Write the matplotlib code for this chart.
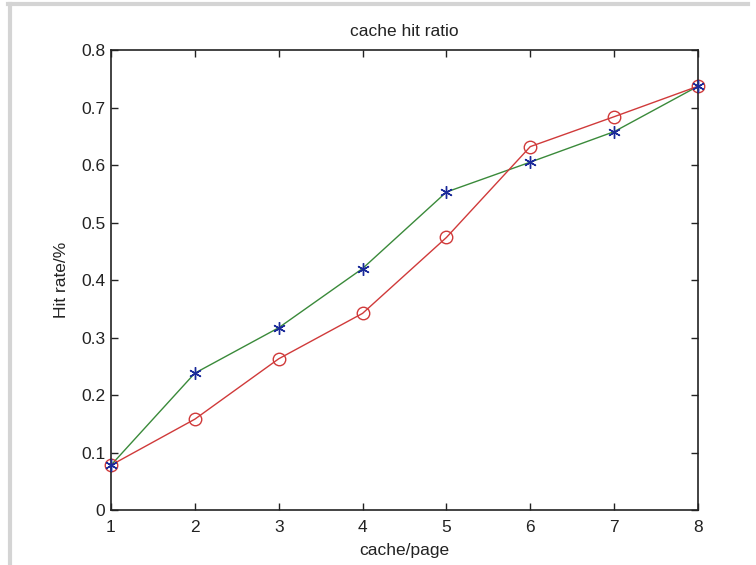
import matplotlib
matplotlib.use('Agg')
import matplotlib.pyplot as plt
from matplotlib.lines import Line2D

plt.rcParams['font.family'] = ['Liberation Sans', 'DejaVu Sans']

cache_pages = [1, 2, 3, 4, 5, 6, 7, 8]
hit_star = [0.078, 0.238, 0.317, 0.420, 0.553, 0.605, 0.658, 0.737]
hit_circle = [0.078, 0.158, 0.263, 0.342, 0.474, 0.632, 0.684, 0.737]

fig = plt.figure(figsize=(7.56, 5.65), dpi=100)
ax = fig.add_axes([0.1468, 0.0973, 0.7765, 0.8142])

# grey frame of the window
fig.add_artist(Line2D([0.011, 0.99], [0.9925, 0.9925], transform=fig.transFigure,
                      color='#d4d4d4', lw=3))
fig.add_artist(Line2D([0.0135, 0.0135], [0.0, 0.9925], transform=fig.transFigure,
                      color='#d4d4d4', lw=3))

ax.plot(cache_pages, hit_star, color='#3a8a3a', lw=1, clip_on=False)
ax.plot(cache_pages, hit_star, ls='none', marker=(6, 2, 0), ms=9, mew=1,
        color='#1a2a9a', clip_on=False, zorder=3)
ax.plot(cache_pages, hit_circle, color='#d03a3a', lw=1, marker='o', ms=9,
        mfc='none', mec='#d03a3a', mew=1, clip_on=False)

ax.set_xlim(1, 8)
ax.set_ylim(0, 0.8)
ax.set_xticks(cache_pages)
ax.set_yticks([0, 0.1, 0.2, 0.3, 0.4, 0.5, 0.6, 0.7, 0.8])
ax.set_yticklabels(['0', '0.1', '0.2', '0.3', '0.4', '0.5', '0.6', '0.7', '0.8'])
ax.tick_params(direction='in', length=5, width=1, top=True, right=True,
               labelsize=12.5, colors='#222222', pad=4)
ax.tick_params(axis='x', pad=7)
for s in ax.spines.values():
    s.set_linewidth(1.2)
    s.set_color('#222222')

ax.set_title('cache hit ratio', fontsize=12.5, pad=10, color='#222222')
ax.set_xlabel('cache/page', fontsize=12.5, labelpad=6, color='#222222')
ax.set_ylabel('Hit rate/%', fontsize=12.5, labelpad=9, color='#222222')

fig.savefig('out.png', dpi=100)
